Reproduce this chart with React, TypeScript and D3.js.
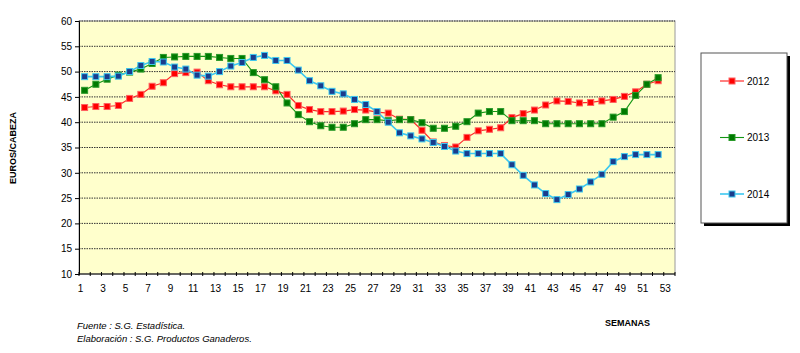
import { useEffect, useRef } from 'react';
import * as d3 from 'd3';

// weeks on the axis (1..53), data covers 52 weeks
const weeks = d3.range(1, 54);
const weekLabels = weeks.filter((w) => w % 2 === 1);
const yTicks = [10, 15, 20, 25, 30, 35, 40, 45, 50, 55, 60];

const serie2012 = [
    42.9, 43.1, 43.1, 43.3, 44.7, 45.5, 47.1, 47.8, 49.6, 49.8,
    49.9, 48.2, 47.4, 47.0, 47.0, 47.0, 47.0, 46.2, 45.5, 43.3,
    42.5, 42.1, 42.1, 42.2, 42.5, 42.4, 42.0, 41.8, 40.6, 40.5,
    38.4, 36.1, 35.4, 35.1, 37.0, 38.3, 38.6, 38.9, 40.9, 41.7,
    42.4, 43.4, 44.2, 44.1, 43.8, 43.9, 44.2, 44.5, 45.1, 46.0, 47.5, 48.2
];
const serie2013 = [
    46.3, 47.5, 48.5, 49.3, 49.9, 50.5, 51.6, 52.8, 52.9, 53.0,
    53.0, 53.0, 52.8, 52.6, 52.6, 49.8, 48.4, 47.0, 43.8, 41.5,
    40.1, 39.3, 39.0, 39.0, 39.7, 40.5, 40.5, 40.3, 40.5, 40.5,
    39.9, 38.8, 38.8, 39.2, 40.1, 41.8, 42.1, 42.1, 40.3, 40.3,
    40.3, 39.7, 39.7, 39.7, 39.7, 39.7, 39.7, 41.0, 42.1, 45.3, 47.5, 48.8
];
const serie2014 = [
    49.0, 49.0, 49.0, 49.1, 50.0, 51.2, 52.0, 51.9, 50.9, 50.5,
    49.3, 49.1, 50.0, 51.1, 51.8, 52.8, 53.2, 52.2, 52.2, 50.3,
    48.2, 47.2, 46.1, 45.6, 44.5, 43.5, 42.1, 40.0, 37.9, 37.3,
    36.7, 36.0, 35.2, 34.3, 33.8, 33.8, 33.8, 33.8, 31.6, 29.5,
    27.6, 25.9, 24.7, 25.7, 26.8, 28.2, 29.7, 32.2, 33.2, 33.6, 33.6, 33.6
];

const series = [
    { name: '2012', values: serie2012, line: '#ff2a2a', lineWidth: 1.2, fill: '#ff0000', edge: '#ff6060' },
    { name: '2013', values: serie2013, line: '#139613', lineWidth: 1.1, fill: '#007a00', edge: '#2a9a2a' },
    { name: '2014', values: serie2014, line: '#3cc8f0', lineWidth: 1.6, fill: '#1a3c8c', edge: '#3cc8f0' }
];

export default function App() {
    const ref = useRef<SVGSVGElement>(null);

    useEffect(() => {
        const svg = d3.select(ref.current);
        svg.selectAll('*').remove();

        // plot area
        const left = 79;
        const right = 675;
        const top = 21;
        const bottom = 274;
        const font = 'Liberation Sans, Arial, sans-serif';

        const x = d3.scaleBand<number>()
            .domain(weeks)
            .range([left, right]);
        const y = d3.scaleLinear()
            .domain([10, 60])
            .range([bottom, top]);

        svg.append('rect')
            .attr('x', left)
            .attr('y', top)
            .attr('width', right - left)
            .attr('height', bottom - top)
            .attr('fill', '#ffffcc')
            .attr('stroke', '#9a9a9a')
            .attr('stroke-width', 1);

        // grid
        svg.append('g')
            .selectAll('line')
            .data(yTicks.filter((t) => t > 10))
            .enter()
            .append('line')
            .attr('x1', left)
            .attr('x2', right)
            .attr('y1', (d) => y(d))
            .attr('y2', (d) => y(d))
            .attr('stroke', '#333')
            .attr('stroke-width', 1)
            .attr('stroke-dasharray', '1.5,1');

        // y axis
        const yAxis = d3.axisLeft(y).tickValues(yTicks).tickSize(4).tickPadding(3);
        const gy = svg.append('g')
            .attr('transform', 'translate(' + left + ',0)')
            .call(yAxis);
        gy.select('.domain').attr('stroke', '#000');
        gy.selectAll('text')
            .attr('font-family', font)
            .attr('font-size', 10)
            .attr('fill', '#000');

        // x axis: ticks on category boundaries
        svg.append('line')
            .attr('x1', left)
            .attr('x2', right)
            .attr('y1', bottom)
            .attr('y2', bottom)
            .attr('stroke', '#000');
        svg.append('g')
            .selectAll('line')
            .data(d3.range(0, weeks.length + 1))
            .enter()
            .append('line')
            .attr('x1', (i) => left + i * x.bandwidth())
            .attr('x2', (i) => left + i * x.bandwidth())
            .attr('y1', bottom - 2)
            .attr('y2', bottom + 2)
            .attr('stroke', '#000');
        svg.append('g')
            .selectAll('text')
            .data(weekLabels)
            .enter()
            .append('text')
            .attr('x', (d) => (x(d) as number) + x.bandwidth() / 2 - 4)
            .attr('y', 292)
            .attr('text-anchor', 'middle')
            .attr('font-family', font)
            .attr('font-size', 10)
            .text((d) => d);

        // lines and markers
        const line = d3.line<number>()
            .x((d, i) => (x(weeks[i]) as number) + x.bandwidth() / 2)
            .y((d) => y(d));

        series.forEach((s) => {
            svg.append('path')
                .datum(s.values)
                .attr('d', line)
                .attr('fill', 'none')
                .attr('stroke', s.line)
                .attr('stroke-width', s.lineWidth);
        });
        series.forEach((s) => {
            svg.append('g')
                .selectAll('rect')
                .data(s.values)
                .enter()
                .append('rect')
                .attr('x', (d, i) => (x(weeks[i]) as number) + x.bandwidth() / 2 - 3)
                .attr('y', (d) => y(d) - 3)
                .attr('width', 6)
                .attr('height', 6)
                .attr('fill', s.fill)
                .attr('stroke', s.edge)
                .attr('stroke-width', 1);
        });

        // legend with shadow
        const lg = svg.append('g');
        lg.append('rect')
            .attr('x', 704)
            .attr('y', 56)
            .attr('width', 86)
            .attr('height', 170)
            .attr('fill', '#000');
        lg.append('rect')
            .attr('x', 701)
            .attr('y', 53)
            .attr('width', 86)
            .attr('height', 170)
            .attr('fill', '#fff')
            .attr('stroke', '#555')
            .attr('stroke-width', 1);
        series.forEach((s, i) => {
            const ly = 81 + i * 56.5;
            lg.append('line')
                .attr('x1', 720)
                .attr('x2', 744)
                .attr('y1', ly)
                .attr('y2', ly)
                .attr('stroke', s.line)
                .attr('stroke-width', s.lineWidth);
            lg.append('rect')
                .attr('x', 729)
                .attr('y', ly - 3)
                .attr('width', 6)
                .attr('height', 6)
                .attr('fill', s.fill)
                .attr('stroke', s.edge);
            lg.append('text')
                .attr('x', 747)
                .attr('y', ly + 3.5)
                .attr('font-family', font)
                .attr('font-size', 10)
                .text(s.name);
        });

        // titles and notes
        svg.append('text')
            .attr('transform', 'translate(16,' + 148 + ') rotate(-90)')
            .attr('text-anchor', 'middle')
            .attr('font-family', font)
            .attr('font-size', 9)
            .attr('font-weight', 'bold')
            .text('EUROS/CABEZA');
        svg.append('text')
            .attr('x', 650)
            .attr('y', 326)
            .attr('text-anchor', 'end')
            .attr('font-family', font)
            .attr('font-size', 9)
            .attr('font-weight', 'bold')
            .text('SEMANAS');
        svg.append('text')
            .attr('x', 77)
            .attr('y', 329)
            .attr('font-family', font)
            .attr('font-size', 9.5)
            .attr('font-style', 'italic')
            .text('Fuente : S.G. Estadística.');
        svg.append('text')
            .attr('x', 77)
            .attr('y', 342)
            .attr('font-family', font)
            .attr('font-size', 9.5)
            .attr('font-style', 'italic')
            .text('Elaboración : S.G. Productos Ganaderos.');
    }, []);

    return (
        <svg ref={ref} width={800} height={353}
            style={{ position: 'absolute', left: 0, top: 0, background: '#fff' }} />
    );
}
